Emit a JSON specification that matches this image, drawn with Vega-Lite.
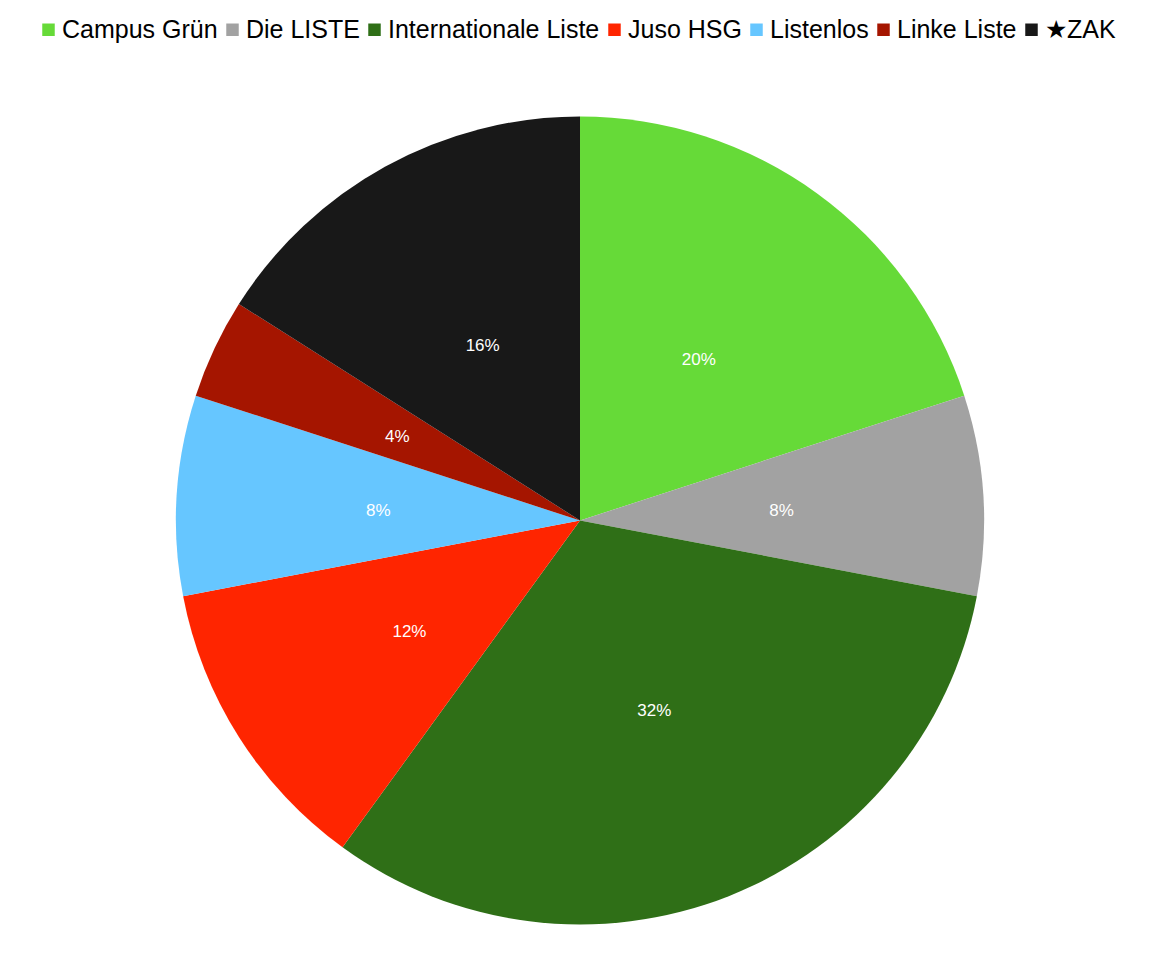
{
  "$schema": "https://vega.github.io/schema/vega-lite/v6.json",
  "width": 1160,
  "height": 881,
  "autosize": "none",
  "padding": {"left": 0, "right": 0, "top": 80, "bottom": 0},
  "background": "white",
  "config": {"view": {"stroke": null}, "font": "Liberation Sans"},
  "data": {
    "values": [
      {"party": "Campus Grün", "share": 0.20, "idx": 1},
      {"party": "Die LISTE", "share": 0.08, "idx": 2},
      {"party": "Internationale Liste", "share": 0.32, "idx": 3},
      {"party": "Juso HSG", "share": 0.12, "idx": 4},
      {"party": "Listenlos", "share": 0.08, "idx": 5},
      {"party": "Linke Liste", "share": 0.04, "idx": 6},
      {"party": "★ZAK", "share": 0.16, "idx": 7}
    ]
  },
  "encoding": {
    "theta": {"field": "share", "type": "quantitative", "stack": true},
    "order": {"field": "idx", "type": "quantitative"}
  },
  "layer": [
    {
      "mark": {"type": "arc", "radius": 404},
      "encoding": {
        "color": {
          "field": "party",
          "type": "nominal",
          "scale": {
            "domain": ["Campus Grün", "Die LISTE", "Internationale Liste", "Juso HSG", "Listenlos", "Linke Liste", "★ZAK"],
            "range": ["#66DA38", "#A2A2A2", "#2F6F17", "#FF2500", "#66C6FF", "#A51500", "#181818"]
          },
          "legend": {
            "orient": "none",
            "direction": "horizontal",
            "legendX": 36,
            "legendY": -63,
            "title": null,
            "symbolType": "square",
            "symbolSize": 156,
            "symbolStrokeWidth": 0,
            "labelFontSize": 25,
            "labelColor": "#000000",
            "labelFont": "Liberation Sans",
            "labelOffset": 1,
            "columnPadding": 2,
            "labelLimit": 400
          }
        }
      }
    },
    {
      "mark": {"type": "text", "radius": 202, "fontSize": 17, "color": "white", "font": "Liberation Sans", "dy": 3},
      "encoding": {
        "text": {"field": "share", "type": "quantitative", "format": ".0%"}
      }
    }
  ]
}
